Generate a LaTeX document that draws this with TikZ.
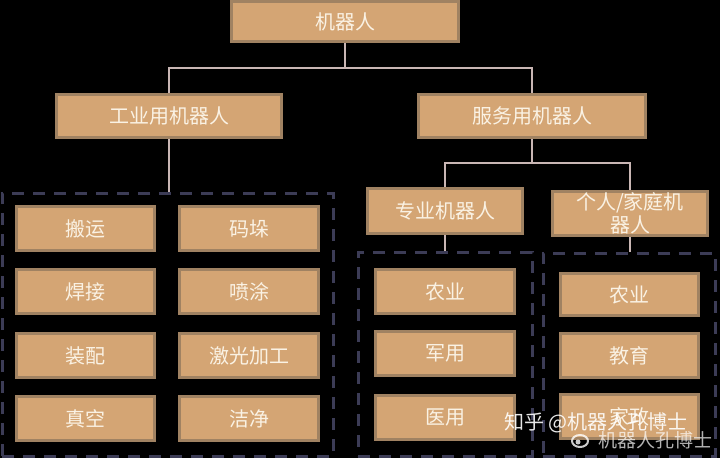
\documentclass[tikz,border=0pt]{standalone}
\usepackage{fontspec}
\setmainfont{Noto Sans CJK SC}
\newfontfamily\cjk{Noto Sans CJK SC}
\usetikzlibrary{positioning}
\definecolor{boxfill}{HTML}{D4A574}
\definecolor{boxline}{HTML}{A08262}
\definecolor{txt}{HTML}{FAF2E4}
\definecolor{conn}{HTML}{C9B6B4}
\definecolor{dashc}{HTML}{3C3C56}
\tikzset{
  catbox/.style={draw=boxline, fill=boxfill, line width=3pt, inner sep=0pt,
    text=txt, font=\cjk\fontsize{20}{23}\selectfont, align=center},
  grpbox/.style={draw=dashc, line width=3pt, dash pattern=on 12pt off 9pt, inner sep=0pt},
  link/.style={draw=conn, line width=2pt},
  wmark/.style={text=white, inner sep=0pt, font=\cjk\fontsize{19}{21}\selectfont}
}
\begin{document}
\begin{tikzpicture}[x=1pt,y=-1pt]
\fill[black] (0,0) rectangle (720,458);
\useasboundingbox (0,0) rectangle (720,458);

% groups
\node[grpbox, minimum width=331pt, minimum height=263pt] (grpL) at (167.5,324.5) {};
\node[grpbox, minimum width=174pt, minimum height=204pt] (grpM) at (445,354) {};
\node[grpbox, minimum width=172pt, minimum height=203pt] (grpR) at (629,354.5) {};

% main boxes
\node[catbox, minimum width=227pt, minimum height=40pt] (root) at (345,21.5) {机器人};
\node[catbox, minimum width=225pt, minimum height=43pt] (ind) at (169,116) {工业用机器人};
\node[catbox, minimum width=227pt, minimum height=43pt] (svc) at (532,116) {服务用机器人};
\node[catbox, minimum width=155pt, minimum height=45pt] (pro) at (445,211) {专业机器人};
\node[catbox, minimum width=155pt, minimum height=44pt] (per) at (630,213.5) {个人/家庭机\\器人};

% industrial
\node[catbox, minimum width=138pt, minimum height=44pt] (i1) at (85.5,228.5) {搬运};
\node[catbox, minimum width=139pt, minimum height=44pt] (i2) at (249,228.5) {码垛};
\node[catbox, minimum width=138pt, minimum height=44pt] (i3) at (85.5,291.5) {焊接};
\node[catbox, minimum width=139pt, minimum height=44pt] (i4) at (249,291.5) {喷涂};
\node[catbox, minimum width=138pt, minimum height=44pt] (i5) at (85.5,355.5) {装配};
\node[catbox, minimum width=139pt, minimum height=44pt] (i6) at (249,355.5) {激光加工};
\node[catbox, minimum width=138pt, minimum height=44pt] (i7) at (85.5,418.5) {真空};
\node[catbox, minimum width=139pt, minimum height=44pt] (i8) at (249,418.5) {洁净};

% professional
\node[catbox, minimum width=139pt, minimum height=44pt] (p1) at (445,291.5) {农业};
\node[catbox, minimum width=139pt, minimum height=44pt] (p2) at (445,353.5) {军用};
\node[catbox, minimum width=139pt, minimum height=44pt] (p3) at (445,417.5) {医用};

% personal
\node[catbox, minimum width=138pt, minimum height=42pt] (h1) at (629.5,294.5) {农业};
\node[catbox, minimum width=138pt, minimum height=44pt] (h2) at (629.5,355.5) {教育};
\node[catbox, minimum width=138pt, minimum height=44pt] (h3) at (629.5,416.5) {家政};

% connectors
\coordinate (j1) at (345,68);
\coordinate (j2) at (532,163);
\draw[link] (root.south) -- (j1);
\draw[link] (ind.north) |- (j1) -| (svc.north);
\draw[link] (ind.south) -- (ind.south |- grpL.north);
\draw[link] (svc.south) -- (j2);
\draw[link] (pro.north) |- (j2) -| (per.north);
\draw[link] (pro.south) -- (pro.south |- grpM.north);
\draw[link] (per.south) -- (per.south |- grpR.north);

% watermark
\node[wmark, font=\cjk\fontsize{20}{22}\selectfont, opacity=0.9] (wm1) at (596,423) {知乎 @机器人孔博士};
\node[wmark, opacity=0.7] (wm2) at (655,440) {机器人孔博士};
\draw[white, opacity=0.8, line width=2pt] (580,441) ellipse [x radius=8pt, y radius=6pt];
\fill[white, opacity=0.8] (578,442) circle (2.5pt);
\end{tikzpicture}
\end{document}
